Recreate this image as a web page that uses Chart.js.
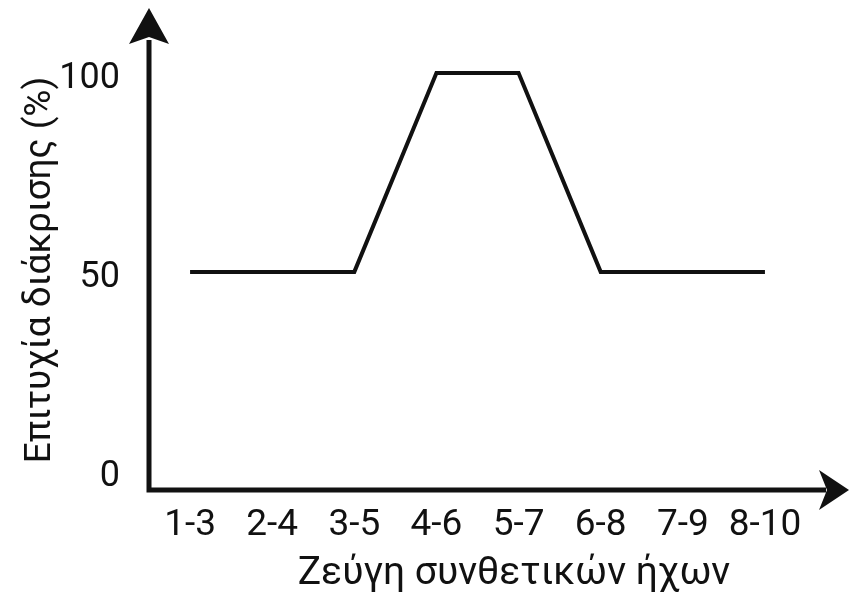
<!DOCTYPE html>
<html>
<head>
<meta charset="utf-8">
<script src="https://cdn.jsdelivr.net/npm/chart.js@4/dist/chart.umd.min.js"></script>
<style>
  html, body { margin: 0; padding: 0; background: #fff; }
  #wrap { width: 850px; height: 595px; }
</style>
</head>
<body>
<div id="wrap"><canvas id="myChart"></canvas></div>
<script>
const categories = ['1-3', '2-4', '3-5', '4-6', '5-7', '6-8', '7-9', '8-10'];
const success = [50, 50, 50, 100, 100, 50, 50, 50];
const yTicks = [0, 50, 100];
const xTitle = 'Ζεύγη συνθετικών ήχων';
const yTitle = 'Επιτυχία διάκρισης (%)';

const ink = '#111';
const tickFont = { family: 'Roboto', size: 36 };

// axes with arrow heads + axis titles, drawn by hand
const arrowAxes = {
  id: 'arrowAxes',
  afterDraw(chart) {
    const { ctx, chartArea: a } = chart;
    const x0 = a.left, y0 = a.bottom;
    ctx.save();
    ctx.strokeStyle = ink;
    ctx.fillStyle = ink;
    ctx.lineWidth = 5;
    ctx.lineCap = 'butt';
    ctx.beginPath();
    ctx.moveTo(x0, 40);
    ctx.lineTo(x0, y0);
    ctx.lineTo(826, y0);
    ctx.stroke();

    // y arrow
    ctx.beginPath();
    ctx.moveTo(x0, 8);
    ctx.lineTo(x0 + 20, 44);
    ctx.lineTo(x0, 37);
    ctx.lineTo(x0 - 20, 44);
    ctx.closePath();
    ctx.fill();

    // x arrow
    ctx.beginPath();
    ctx.moveTo(849, y0);
    ctx.lineTo(819, y0 - 20);
    ctx.lineTo(827, y0);
    ctx.lineTo(819, y0 + 20);
    ctx.closePath();
    ctx.fill();

    ctx.textAlign = 'center';
    ctx.textBaseline = 'alphabetic';
    ctx.font = '39px Roboto';
    ctx.fillText(xTitle, 514, 584);

    ctx.font = '37px Roboto';
    ctx.translate(50, 270);
    ctx.rotate(-Math.PI / 2);
    ctx.fillText(yTitle, 0, 0);
    ctx.restore();
  }
};

new Chart(document.getElementById('myChart'), {
  type: 'line',
  data: {
    labels: categories,
    datasets: [{
      data: success,
      borderColor: ink,
      borderWidth: 4,
      pointRadius: 0,
      tension: 0,
      borderJoinStyle: 'miter'
    }]
  },
  options: {
    responsive: true,
    maintainAspectRatio: false,
    animation: false,
    layout: { padding: { top: 8, right: 44, left: 0, bottom: 0 } },
    plugins: { legend: { display: false }, tooltip: { enabled: false } },
    scales: {
      x: {
        offset: true,
        grid: { display: false },
        border: { display: false },
        ticks: { color: ink, font: { family: 'Roboto', size: 37 }, padding: 6, maxRotation: 0, autoSkip: false },
        afterFit(scale) {
          scale.height = 105;
          scale.paddingLeft = 0;
          scale.paddingRight = 0;
        }
      },
      y: {
        min: -4.8,
        max: 116.3,
        grid: { display: false },
        border: { display: false },
        afterBuildTicks(scale) { scale.ticks = yTicks.map(v => ({ value: v })); },
        ticks: { color: ink, font: tickFont, padding: 21, labelOffset: 6 },
        afterFit(scale) {
          scale.width = 149;
          scale.paddingTop = 0;
          scale.paddingBottom = 0;
        }
      }
    }
  },
  plugins: [arrowAxes]
});
</script>
</body>
</html>
